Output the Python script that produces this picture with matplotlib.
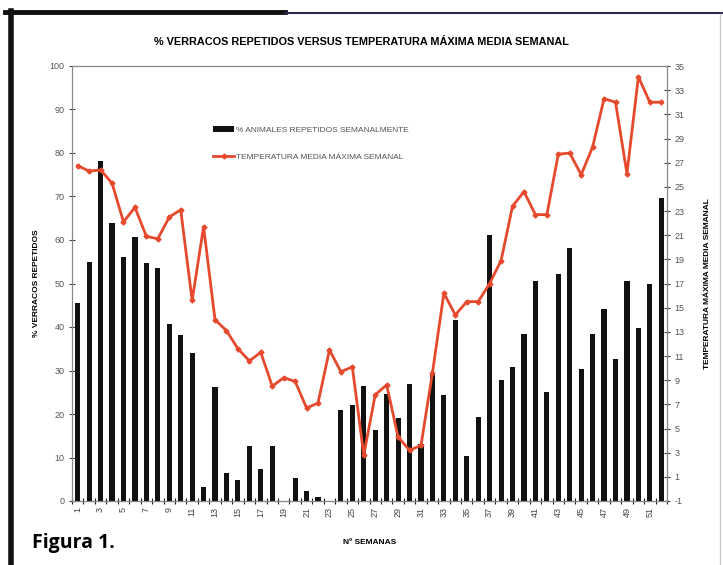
import matplotlib
matplotlib.use("Agg")
import matplotlib.pyplot as plt
from matplotlib.lines import Line2D
import numpy as np

plt.rcParams['font.family'] = ['Liberation Sans', 'DejaVu Sans']
plt.rcParams['axes.unicode_minus'] = False

weeks = list(range(1, 53))
repetidos = [45.5, 54.9, 78.2, 63.8, 56.1, 60.7, 54.8, 53.6, 40.7, 38.2,
             34.0, 3.3, 26.3, 6.5, 4.8, 12.6, 7.4, 12.6, 0.0, 5.2,
             2.3, 1.0, 0.0, 20.9, 22.0, 26.5, 16.3, 24.5, 19.0, 26.9,
             13.0, 29.5, 24.4, 41.6, 10.4, 19.4, 61.1, 27.8, 30.7, 38.3,
             50.6, 25.1, 52.2, 58.2, 30.3, 38.5, 44.1, 32.6, 50.6, 39.8,
             50.0, 69.7]
temperatura = [26.75, 26.3, 26.4, 25.3, 22.1, 23.3, 20.9, 20.7, 22.5, 23.1,
               15.6, 21.7, 14.0, 13.1, 11.6, 10.6, 11.3, 8.5, 9.2, 8.9,
               6.7, 7.1, 11.5, 9.7, 10.1, 2.8, 7.8, 8.6, 4.3, 3.2,
               3.6, 9.6, 16.2, 14.4, 15.5, 15.5, 17.0, 18.9, 23.4, 24.6,
               22.7, 22.7, 27.7, 27.8, 26.0, 28.3, 32.3, 32.0, 26.1, 34.1,
               32.0, 32.0]
left_ticks = list(range(0, 101, 10))
right_ticks = list(range(-1, 36, 2))
x_labels = [str(w) if w % 2 == 1 else '' for w in weeks]

W, H = 723, 565
fig = plt.figure(figsize=(W / 100, H / 100), dpi=100)
ax = fig.add_axes([72 / W, 1 - 501 / H, (667 - 72) / W, (501 - 66) / H])
ax2 = ax.twinx()

ax.bar(weeks, repetidos, width=0.45, color='#111111', zorder=2,
       label='% ANIMALES REPETIDOS SEMANALMENTE')
ax2.plot(weeks, temperatura, color='#e64a2e', lw=2.0, marker='D', ms=2.5,
         label='TEMPERATURA MEDIA MÁXIMA SEMANAL', zorder=3)

ax.set_xlim(0.5, 52.5)
ax.set_ylim(0, 100)
ax2.set_ylim(-1, 35)
ax.set_yticks(left_ticks)
ax2.set_yticks(right_ticks)
ax.set_xticks(weeks)
ax.set_xticklabels(x_labels, rotation=90)
ax.set_xticks(np.arange(0.5, 53, 1.0), minor=True)
ax.tick_params(axis='x', which='major', length=0, labelsize=6.5, labelcolor='#444444', pad=4)
ax.tick_params(axis='x', which='minor', length=5, direction='inout', color='#222222', width=0.8)
ax.tick_params(axis='y', length=4, direction='inout', labelsize=6.5, labelcolor='#555555', color='#444444')
ax2.tick_params(axis='y', length=4, direction='inout', labelsize=6.5, labelcolor='#555555', color='#444444')

for a in (ax, ax2):
    for s in a.spines.values():
        s.set_color('#888888')
        s.set_linewidth(0.8)
ax.spines['bottom'].set_color('#222222')

ax.set_ylabel('% VERRACOS REPETIDOS', fontsize=6, fontweight='bold', labelpad=7)
ax2.set_ylabel('TEMPERATURA MÁXIMA MEDIA SEMANAL', fontsize=6, fontweight='bold', labelpad=14)
ax.set_xlabel('Nº SEMANAS', fontsize=6, fontweight='bold', labelpad=16)
fig.text(361 / W, 1 - 42 / H, '% VERRACOS REPETIDOS VERSUS TEMPERATURA MÁXIMA MEDIA SEMANAL',
         ha='center', va='center', fontsize=7.8, fontweight='bold')

h1, l1 = ax.get_legend_handles_labels()
h2, l2 = ax2.get_legend_handles_labels()
leg = ax2.legend(h1 + h2, l1 + l2, loc='upper left', bbox_to_anchor=(0.225, 0.88),
                 frameon=False, fontsize=6, handlelength=2.5, labelspacing=2.4,
                 handletextpad=0.2, labelcolor='#555555')

# scan frame
fig.add_artist(Line2D([10.5 / W, 10.5 / W], [0, 1 - 11 / H], color='#111111', lw=4))
fig.add_artist(Line2D([5 / W, 285 / W], [1 - 12 / H, 1 - 12 / H], color='#111111', lw=3.5))
fig.add_artist(Line2D([285 / W, 723 / W], [1 - 13 / H, 1 - 13 / H], color='#2a2a50', lw=1.5))
fig.add_artist(Line2D([720 / W, 720 / W], [0, 1 - 14 / H], color='#cccccc', lw=1))

fig.text(32 / W, 1 - 543 / H, 'Figura 1.', ha='left', va='center', fontsize=14,
         fontweight='bold', family=['Open Sans', 'DejaVu Sans'])

fig.savefig('out.png', dpi=100)
